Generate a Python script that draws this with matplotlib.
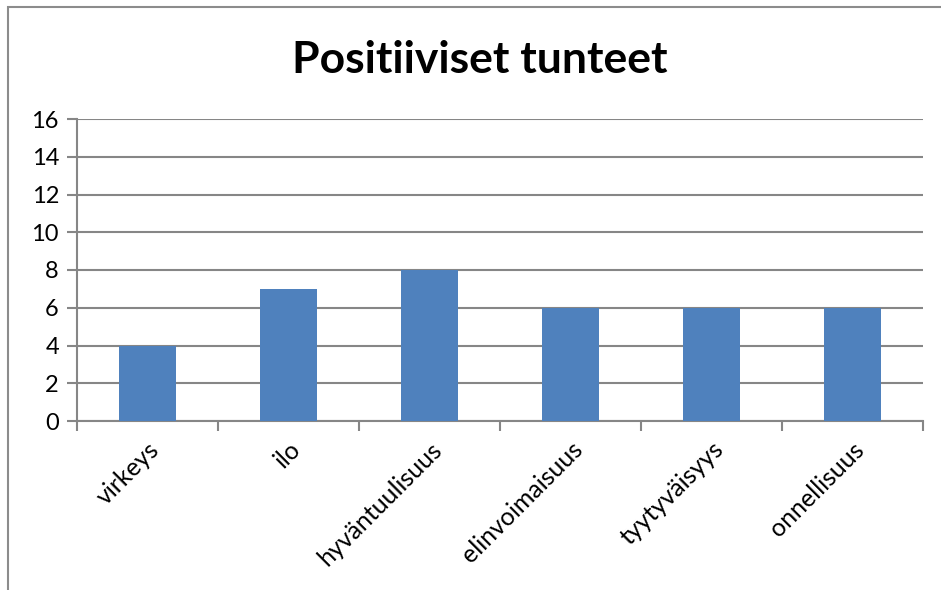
import matplotlib
matplotlib.use("Agg")
import matplotlib.pyplot as plt
from matplotlib.patches import Rectangle

categories = ["virkeys", "ilo", "hyväntuulisuus", "elinvoimaisuus", "tyytyväisyys", "onnellisuus"]
values = [4, 7, 8, 6, 6, 6]
yticks = [0, 2, 4, 6, 8, 10, 12, 14, 16]

plt.rcParams["font.family"] = ["Lato", "DejaVu Sans"]

W, H = 941, 590
fig = plt.figure(figsize=(W / 100, H / 100), dpi=100)
ax = fig.add_axes([77 / W, 1 - 421 / H, (923 - 77) / W, (421 - 119) / H])

# outer chart frame (cut off at right/bottom like the reference)
fig.patches.append(Rectangle((8 / W, -0.1), 1.2, 1 - 7 / H + 0.1, transform=fig.transFigure,
                             fill=False, edgecolor="#8c8c8c", lw=1.5))

grid_c = "#868686"
x = list(range(len(categories)))
ax.bar(x, values, width=0.4, color="#4F81BD", zorder=3)
ax.set_xlim(-0.5, len(categories) - 0.5)
ax.set_ylim(0, 16)
ax.set_yticks(yticks)
ax.set_yticklabels([str(v) for v in yticks], fontsize=17)
ax.yaxis.grid(True, color=grid_c, lw=1.5, zorder=0)
ax.tick_params(axis="y", length=7, width=1.5, color=grid_c, pad=6)

# category boundary ticks under the x axis
ax.set_xticks([i - 0.5 for i in range(len(categories) + 1)], minor=False)
ax.set_xticklabels([])
ax.tick_params(axis="x", which="major", length=7, width=1.5, color=grid_c)
ax.set_xticks(x, minor=True)
ax.set_xticklabels(categories, minor=True, rotation=45, ha="right", va="top",
                   rotation_mode="anchor", fontsize=18)
ax.tick_params(axis="x", which="minor", length=0, pad=12)

for s in ["top", "right"]:
    ax.spines[s].set_visible(False)
for s in ["left", "bottom"]:
    ax.spines[s].set_color(grid_c)
    ax.spines[s].set_linewidth(1.5)

fig.text(480 / W, 1 - 60 / H, "Positiiviset tunteet", ha="center", va="center",
         fontsize=32, fontweight="bold")

fig.savefig("out.png", dpi=100)
